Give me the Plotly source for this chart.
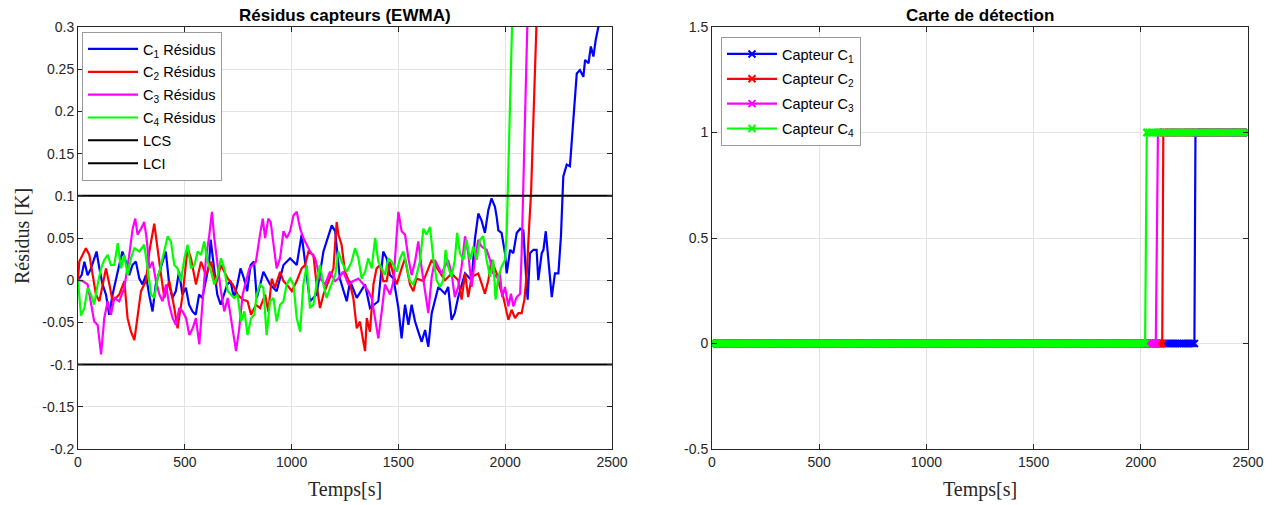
import plotly.graph_objects as go

# ---------------- data ----------------
t_c1 = [0, 17, 30, 45, 61, 76, 87, 100, 115, 131, 146, 162, 177, 193, 208, 224, 240, 255, 271, 287,
        302, 318, 333, 349, 364, 380, 396, 411, 427, 442, 458, 473, 489, 505, 520, 536, 551, 567, 582, 598,
        613, 621, 637, 652, 668, 683, 699, 714, 730, 746, 761, 777, 792, 808, 824,
        837, 868, 899, 930, 962, 993, 1024, 1047, 1086, 1117, 1149, 1188, 1204, 1226, 1258, 1274, 1305,
        1344, 1367, 1406, 1429, 1445, 1461, 1477, 1500, 1515, 1531, 1547, 1562, 1578, 1593, 1609, 1625,
        1640, 1656, 1687, 1718, 1733, 1749, 1764, 1780, 1812, 1843, 1858, 1874, 1889, 1905, 1921, 1936,
        1952, 1960, 1968, 1983, 1999, 2007, 2023, 2038, 2054, 2070, 2085, 2093, 2105, 2116, 2132, 2147,
        2155, 2171, 2179, 2190, 2202, 2218, 2233, 2249, 2261, 2272, 2288, 2303, 2319, 2335, 2350, 2366,
        2374, 2390, 2401, 2413, 2424, 2437, 2452]
r_c1 = [0.0, 0.006, 0.022, 0.006, 0.014, 0.026, 0.034, 0.014, -0.005, -0.017, -0.041, -0.017, 0.002, 0.018, 0.034, 0.022, 0.006, 0.018, 0.022, 0.002,
        -0.005, 0.006, -0.017, -0.037, -0.005, 0.010, 0.022, 0.034, -0.005, -0.021, -0.013, 0.010, -0.017, -0.009, -0.029, -0.037, -0.041, -0.017, -0.021, -0.001,
        0.018, 0.048, 0.014, -0.017, -0.029, -0.017, -0.005, -0.001, -0.021, -0.005, 0.014, 0.002, -0.013, 0.018, 0.022,
        -0.021, 0.010, -0.005, -0.013, 0.018, 0.026, 0.018, 0.054, -0.025, -0.017, 0.034, 0.065, 0.058, 0.002, -0.025, -0.001, -0.021,
        -0.005, -0.033, -0.025, 0.034, 0.026, 0.006, 0.002, -0.033, -0.069, -0.029, -0.053, -0.029, -0.049, -0.061, -0.073, -0.059,
        -0.079, -0.039, -0.008, -0.016, -0.008, -0.047, -0.039, -0.020, 0.008, 0.000, 0.048, 0.079, 0.071, 0.056, 0.083, 0.097,
        0.087, 0.075, 0.059, 0.056, 0.032, 0.008, 0.036, 0.032, 0.056, 0.061, 0.059, 0.024, -0.023, 0.032, 0.036, 0.036,
        0.000, 0.032, 0.036, 0.058, 0.020, -0.020, 0.008, 0.008, 0.052, 0.123, 0.137, 0.135, 0.190, 0.245, 0.249, 0.241,
        0.261, 0.257, 0.277, 0.265, 0.285, 0.300, 0.320]

t_c2 = [0, 6, 37, 53, 69, 84, 100, 131, 147, 162, 193, 217, 232, 248, 264, 279, 295, 318, 334, 357,
        373, 389, 404, 427, 451, 466, 490, 513, 529, 552, 576, 599, 623, 646, 669, 701, 724, 747, 771, 794,
        810, 833,
        852, 876, 891, 907, 922, 946, 962, 977, 1001, 1024, 1047, 1063, 1079, 1102, 1117, 1133, 1149, 1172,
        1196, 1211, 1219, 1234, 1250, 1274, 1289, 1305, 1320, 1336, 1344, 1352, 1367, 1383, 1398, 1414, 1429,
        1445, 1461, 1477, 1492, 1515, 1531, 1554, 1570, 1585, 1617,
        1656, 1687, 1718, 1749, 1780, 1796, 1812, 1827, 1843, 1874, 1905, 1921, 1936, 1960, 1975, 1991,
        2007, 2015, 2030, 2046, 2062, 2077, 2090, 2101, 2112, 2121, 2132, 2140, 2147, 2155]
r_c2 = [0.0, 0.022, 0.038, 0.030, 0.006, -0.017, -0.025, 0.014, -0.005, -0.025, -0.017, -0.001, -0.045, -0.061, -0.071, -0.045, -0.013, -0.001, 0.034, 0.067,
        0.034, 0.006, -0.021, -0.001, -0.033, -0.057, -0.017, 0.038, 0.026, -0.005, 0.022, 0.006, 0.022, -0.005, 0.018, 0.002, -0.005, -0.017, -0.023, -0.025,
        -0.041, -0.029,
        -0.033, -0.017, -0.037, 0.002, -0.009, 0.010, -0.001, -0.005, -0.013, -0.001, 0.014, 0.018, 0.034, 0.030, -0.005, -0.033, -0.017, -0.001,
        0.014, 0.069, 0.054, 0.042, 0.010, -0.005, -0.021, -0.057, -0.049, -0.073, -0.084, -0.045, -0.061, -0.005, 0.014, 0.018, -0.001,
        -0.001, 0.022, 0.006, -0.005, 0.014, 0.026, -0.005, -0.013, 0.002, -0.001,
        0.024, 0.012, 0.000, 0.008, 0.000, -0.023, 0.008, -0.020, 0.004, 0.008, -0.016, 0.000, 0.024, 0.008, -0.008, -0.020,
        -0.039, -0.047, -0.035, -0.045, -0.039, -0.039, -0.023, 0.008, 0.063, 0.103, 0.190, 0.261, 0.308, 0.330]

t_c3 = [0, 22, 45, 61, 76, 92, 108, 123, 139, 154, 170, 193, 217, 240, 256, 268, 279, 295, 310, 321,
        334, 349, 365, 381, 396, 412, 427, 443, 459, 474, 490, 506, 521, 537, 552, 568, 584, 599, 615, 627,
        638, 654, 669, 685, 701, 716, 732, 740, 755, 771, 787, 802, 818, 833,
        852, 865, 876, 891, 902, 915, 930, 946, 962, 977, 993, 1009, 1024, 1040, 1055, 1071, 1086, 1110,
        1133, 1157, 1180, 1204, 1219, 1242, 1266, 1289, 1313, 1336, 1359, 1375, 1391, 1406, 1422, 1437,
        1461, 1477, 1492, 1500, 1515, 1531, 1547, 1562, 1578, 1593, 1609, 1625,
        1640, 1656, 1671, 1702, 1733, 1749, 1764, 1780, 1796, 1812, 1827, 1843, 1858, 1874, 1889, 1913,
        1929, 1944, 1960, 1975, 1986, 1999, 2015, 2027, 2038, 2054, 2070, 2077, 2085, 2093, 2101, 2105]
r_c3 = [0.0, -0.001, -0.005, -0.029, -0.049, -0.053, -0.088, -0.045, -0.025, -0.041, -0.021, -0.025, -0.009, 0.030, 0.061, 0.073, 0.054, 0.061, 0.069, 0.050,
        0.014, 0.022, -0.001, -0.017, -0.025, -0.005, -0.029, -0.045, -0.053, -0.033, -0.037, -0.045, -0.065, -0.057, -0.045, -0.076, -0.017, 0.026, 0.054, 0.081,
        0.050, 0.018, -0.013, -0.037, -0.021, -0.045, -0.073, -0.084, -0.057, -0.017, -0.001, 0.014, 0.018, 0.022,
        0.054, 0.073, 0.050, 0.073, 0.069, 0.042, 0.014, 0.026, 0.058, 0.050, 0.058, 0.077, 0.081, 0.061, 0.050, 0.042, 0.034, 0.026,
        0.002, -0.005, 0.010, -0.001, 0.002, 0.010, -0.005, -0.001, 0.002, -0.005, -0.013, -0.021, -0.045, -0.069, -0.037, -0.005,
        -0.017, -0.001, 0.054, 0.081, 0.058, 0.054, 0.026, 0.006, 0.022, 0.046, 0.014, -0.013,
        -0.039, 0.004, 0.024, 0.008, 0.024, 0.008, -0.020, -0.008, 0.016, 0.052, 0.032, -0.008, 0.024, 0.048, 0.040, 0.036,
        0.024, 0.008, 0.004, 0.008, -0.020, -0.008, -0.031, -0.016, -0.031, -0.020, -0.016, 0.032, 0.119, 0.210, 0.293, 0.316]

t_c4 = [0, 14, 30, 45, 61, 76, 92, 108, 123, 139, 154, 170, 186, 201, 217, 232, 248, 264, 287, 310,
        326, 342, 357, 373, 389, 404, 420, 435, 451, 466, 482, 498, 513, 529, 545, 560, 576, 591, 607, 623,
        638, 654, 669, 685, 701, 716, 732, 747, 763, 779, 794, 810, 825,
        837, 852, 868, 883, 899, 915, 930, 946, 962, 977, 993, 1009, 1024, 1040, 1055, 1071, 1086, 1102,
        1117, 1133, 1149, 1164, 1180, 1204, 1219, 1234, 1258, 1281, 1297, 1313, 1328, 1344, 1359, 1375,
        1391, 1406, 1422, 1437, 1453, 1469, 1492, 1508, 1523, 1539, 1554, 1570, 1585, 1601, 1617, 1632,
        1648, 1664, 1679, 1695, 1710, 1721, 1733, 1749, 1764, 1775, 1788, 1804, 1819, 1835, 1851, 1866,
        1882, 1897, 1913, 1929, 1944, 1955, 1968, 1983, 1999, 2007, 2015, 2023, 2030, 2035]
r_c4 = [0.0, -0.042, -0.033, -0.009, -0.017, -0.029, -0.005, 0.014, 0.024, 0.030, 0.018, 0.018, 0.044, 0.014, 0.030, 0.006, 0.026, 0.038, 0.034, 0.042,
        0.014, -0.017, -0.021, 0.002, 0.018, 0.034, 0.052, 0.046, 0.018, 0.014, -0.001, 0.026, 0.042, 0.014, 0.018, 0.034, 0.030, 0.046, 0.022, 0.010,
        -0.005, 0.006, 0.026, 0.014, -0.013, -0.017, -0.021, -0.017, -0.049, -0.037, -0.065, -0.045, -0.041,
        -0.017, -0.005, -0.009, -0.065, -0.025, -0.021, -0.049, -0.029, -0.025, -0.005, 0.002, -0.005, -0.045, -0.061, -0.005, 0.018, -0.033, -0.029,
        -0.005, 0.018, -0.005, -0.021, -0.009, 0.006, 0.034, 0.022, 0.010, 0.022, 0.038, 0.026, 0.002, 0.010, 0.026, 0.014,
        0.050, 0.022, 0.014, 0.006, 0.026, 0.022, 0.010, 0.026, 0.034, 0.014, -0.001, -0.005, 0.006, 0.022, 0.061, 0.054,
        0.063, 0.024, 0.000, -0.008, 0.000, 0.036, 0.016, 0.004, 0.024, 0.056, 0.032, 0.024, 0.048, 0.024, 0.040, 0.024,
        0.048, 0.052, 0.024, 0.004, 0.024, -0.023, 0.004, 0.016, 0.024, 0.056, 0.150, 0.229, 0.308, 0.330]

lcs_value = 0.1
lci_value = -0.1

t_detect = list(range(0, 2501, 10))
detection_times = [2255, 2105, 2080, 2028]   # C1, C2, C3, C4

names_res = ["C<sub>1</sub> Résidus", "C<sub>2</sub> Résidus", "C<sub>3</sub> Résidus", "C<sub>4</sub> Résidus"]
names_det = ["Capteur C<sub>1</sub>", "Capteur C<sub>2</sub>", "Capteur C<sub>3</sub>", "Capteur C<sub>4</sub>"]
colors = ["#0000ff", "#ff0000", "#ff00ff", "#00ff00"]

left_yticks = [-0.2, -0.15, -0.1, -0.05, 0, 0.05, 0.1, 0.15, 0.2, 0.25, 0.3]
left_yticktext = ["-0.2", "-0.15", "-0.1", "-0.05", "0", "0.05", "0.1", "0.15", "0.2", "0.25", "0.3"]
right_yticks = [-0.5, 0, 0.5, 1, 1.5]
right_yticktext = ["-0.5", "0", "0.5", "1", "1.5"]
xticks = [0, 500, 1000, 1500, 2000, 2500]

# ---------------- figure ----------------
W, H = 1277, 505
fig = go.Figure()

res_t = [t_c1, t_c2, t_c3, t_c4]
res_v = [r_c1, r_c2, r_c3, r_c4]
for i in range(4):
    fig.add_trace(go.Scatter(x=res_t[i], y=res_v[i], mode="lines", name=names_res[i],
                             line=dict(color=colors[i], width=2.2), xaxis="x", yaxis="y",
                             legend="legend", legendgroup="r%d" % i))
fig.add_trace(go.Scatter(x=[0, 2500], y=[lcs_value, lcs_value], mode="lines", name="LCS",
                         line=dict(color="black", width=2), xaxis="x", yaxis="y",
                         legend="legend", legendgroup="lcs"))
fig.add_trace(go.Scatter(x=[0, 2500], y=[lci_value, lci_value], mode="lines", name="LCI",
                         line=dict(color="black", width=2), xaxis="x", yaxis="y",
                         legend="legend", legendgroup="lci"))

for i in range(4):
    td = detection_times[i]
    xs = [t for t in t_detect if t < td] + [td] + [t for t in t_detect if t > td]
    ys = [0 for t in t_detect if t < td] + [1] + [1 for t in t_detect if t > td]
    fig.add_trace(go.Scatter(x=xs, y=ys, mode="lines+markers", name=names_det[i],
                             line=dict(color=colors[i], width=2.2),
                             marker=dict(symbol="x-thin", size=7, line=dict(color=colors[i], width=2)),
                             xaxis="x2", yaxis="y2", legend="legend2", legendgroup="d%d" % i))

xl = [78 / W, 612 / W]
xr = [712 / W, 1248 / W]
yd = [56 / H, 1 - 27 / H]

axis_common = dict(showline=True, linecolor="#262626", linewidth=1, mirror="ticks",
                   ticks="inside", ticklen=5, tickcolor="#262626", automargin=False,
                   showgrid=True, gridcolor="#e3e3e3", gridwidth=1, zeroline=False,
                   tickfont=dict(family="Liberation Sans, Arial", size=14, color="#262626"))

legend_font = dict(family="Liberation Sans, Arial", size=14.5, color="black")

fig.update_layout(
    width=W, height=H, margin=dict(l=0, r=0, t=0, b=0, autoexpand=False),
    paper_bgcolor="white", plot_bgcolor="white", showlegend=True,
    xaxis=dict(domain=xl, range=[0, 2500], tickvals=xticks, anchor="y", **axis_common),
    yaxis=dict(domain=yd, range=[-0.2, 0.3], tickvals=left_yticks, ticktext=left_yticktext,
               anchor="x", **axis_common),
    xaxis2=dict(domain=xr, range=[0, 2500], tickvals=xticks, anchor="y2", **axis_common),
    yaxis2=dict(domain=yd, range=[-0.5, 1.5], tickvals=right_yticks, ticktext=right_yticktext,
                anchor="x2", **axis_common),
    legend=dict(x=82 / W, y=1 - 32 / H, bgcolor="white", bordercolor="#9a9a9a", borderwidth=1,
                font=legend_font, xanchor="left", yanchor="top", itemwidth=50,
                tracegroupgap=1, itemclick=False),
    legend2=dict(x=721 / W, y=1 - 37 / H, bgcolor="white", bordercolor="#9a9a9a", borderwidth=1,
                 font=legend_font, xanchor="left", yanchor="top", itemwidth=50,
                 tracegroupgap=3, itemclick=False),
    annotations=[
        dict(text="<b>Résidus capteurs (EWMA)</b>", x=(xl[0] + xl[1]) / 2, y=1 - 15 / H,
             xref="paper", yref="paper", showarrow=False, xanchor="center", yanchor="middle",
             font=dict(family="Liberation Sans, Arial", size=17, color="black")),
        dict(text="<b>Carte de détection</b>", x=(xr[0] + xr[1]) / 2, y=1 - 15 / H,
             xref="paper", yref="paper", showarrow=False, xanchor="center", yanchor="middle",
             font=dict(family="Liberation Sans, Arial", size=17, color="black")),
        dict(text="Temps[s]", x=(xl[0] + xl[1]) / 2, y=1 - 489 / H,
             xref="paper", yref="paper", showarrow=False, xanchor="center", yanchor="middle",
             font=dict(family="Liberation Serif, Times New Roman", size=20, color="#262626")),
        dict(text="Temps[s]", x=(xr[0] + xr[1]) / 2, y=1 - 489 / H,
             xref="paper", yref="paper", showarrow=False, xanchor="center", yanchor="middle",
             font=dict(family="Liberation Serif, Times New Roman", size=20, color="#262626")),
        dict(text="Résidus [K]", x=22 / W, y=1 - 236 / H, textangle=-90,
             xref="paper", yref="paper", showarrow=False, xanchor="center", yanchor="middle",
             font=dict(family="Liberation Serif, Times New Roman", size=20, color="#262626")),
    ],
)

fig.write_html("out.html", config={"displayModeBar": False},
               post_script="document.body.style.margin='0px';document.body.style.overflow='hidden';")
